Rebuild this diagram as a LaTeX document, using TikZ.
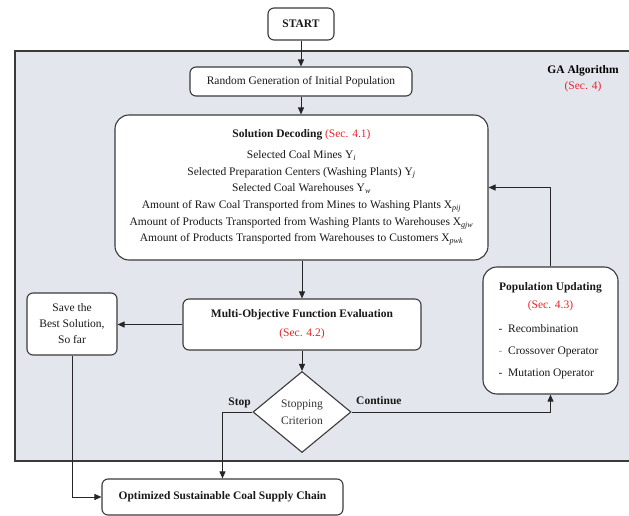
\documentclass[tikz,border=0pt]{standalone}
\usepackage{fontspec}
\setmainfont{Liberation Serif}
\usetikzlibrary{arrows.meta,shapes.geometric}
\definecolor{gabg}{HTML}{E3E6EC}
\definecolor{edgec}{HTML}{3A3A3A}
\definecolor{secred}{HTML}{E8262A}
\newcommand{\myfs}{\fontsize{11.5}{16.7}\selectfont}
\newcommand{\sub}[1]{\textsubscript{\itshape #1}}
\begin{document}
\begin{tikzpicture}[x=1pt,y=-1pt,
  box/.style={draw=edgec, line width=1.1pt, fill=white, rounded corners=6pt,
    inner sep=0pt, font=\myfs, align=center, text=black!90},
  arr/.style={draw=black!85, line width=0.9pt, -{Triangle[length=7pt,width=6pt]}},
  lbl/.style={font=\myfs\bfseries, inner sep=0pt, text=black!90}]
\useasboundingbox (0,0) rectangle (629,516);
\clip (0,0) rectangle (629,516);
% GA region
\fill[gabg] (15,51) rectangle (640,461);
\draw[edgec, line width=1.1pt] (640,51) -- (15,51) -- (15,461) -- (640,461);
\node[font=\myfs, align=center, inner sep=0pt] (ga) at (583,79)
  {\textbf{GA Algorithm}\\[-0.7pt]\textcolor{secred}{(Sec. 4)}};
% nodes
\node[box, minimum width=66pt, minimum height=32pt] (start) at (301,24) {\textbf{START}};
\node[box, minimum width=222pt, minimum height=29pt] (rand) at (301,81.5)
  {Random Generation of Initial Population};
\node[box, rounded corners=14pt, minimum width=373pt, minimum height=145pt] (sol) at (301.5,187.5)
  {\textbf{Solution Decoding} \textcolor{secred}{(Sec. 4.1)}\\[4.3pt]
   Selected Coal Mines Y\sub{i}\\
   Selected Preparation Centers (Washing Plants) Y\sub{j}\\
   Selected Coal Warehouses Y\sub{w}\\
   Amount of Raw Coal Transported from Mines to Washing Plants X\sub{pij}\\
   Amount of Products Transported from Washing Plants to Warehouses X\sub{gjw}\\
   Amount of Products Transported from Warehouses to Customers X\sub{pwk}};
\node[box, minimum width=238pt, minimum height=51pt] (multi) at (302,324.5)
  {\textbf{Multi-Objective Function Evaluation}\\[2.3pt]\textcolor{secred}{(Sec. 4.2)}};
\node[box, minimum width=90pt, minimum height=62pt] (save) at (72,324)
  {Save the\\[-0.7pt]Best Solution,\\[-0.7pt]So far};
\node[draw=edgec, line width=1.1pt, fill=white, diamond, minimum width=98pt, minimum height=81pt,
  inner sep=0pt, font=\myfs, align=center, text=black!80] (dia) at (302,412) {Stopping\\Criterion};
\node[box, rounded corners=14pt, minimum width=135pt, minimum height=127pt] (pop) at (550.5,330.5)
  {\textbf{Population Updating}\\[1.3pt]\textcolor{secred}{(Sec. 4.3)}\\[7.3pt]
   \makebox[104pt][l]{-\ \ Recombination}\\[5.3pt]
   \makebox[104pt][l]{\textcolor{black!40}{-}\ \ Crossover Operator}\\[5.3pt]
   \makebox[104pt][l]{-\ \ Mutation Operator}};
\node[box, minimum width=241pt, minimum height=36pt] (opt) at (222.5,497)
  {\textbf{Optimized Sustainable Coal Supply Chain}};
\node[lbl, anchor=east] (stoplbl) at (251,403) {Stop};
\node[lbl, anchor=west] (contlbl) at (356,401) {Continue};
% connectors
\draw[arr] (start.south) -- (rand.north);
\draw[arr] (rand.south) -- (rand.south |- sol.north);
\draw[arr] (multi.north |- sol.south) -- (multi.north);
\draw[arr] (multi.west) -- (multi.west -| save.east);
\draw[arr] (multi.south) -- (dia.north);
\draw[arr] (dia.west) -| (opt.north);
\draw[arr] (save.south) |- (opt.west);
\draw[arr] (dia.east) -| (pop.south);
\draw[arr] (pop.north) |- (sol.east);
\end{tikzpicture}
\end{document}
